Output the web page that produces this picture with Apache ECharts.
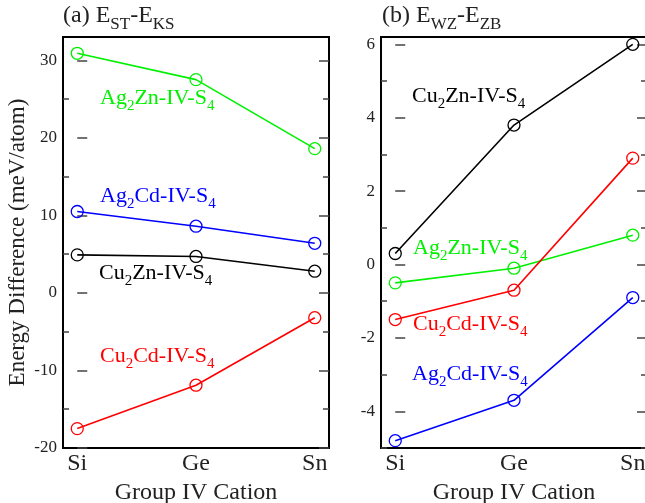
<!DOCTYPE html>
<html><head><meta charset="utf-8">
<script src="https://cdn.jsdelivr.net/npm/echarts@6/dist/echarts.min.js"></script>
<style>html,body{margin:0;padding:0;background:#fff}#c{width:645px;height:503px}</style>
</head><body><div id="c"></div>
<script>
const categories = ['Si', 'Ge', 'Sn'];
// Panel (a): E_ST - E_KS (meV/atom)
const a_Ag2Zn = [30.9, 27.5, 18.6];
const a_Ag2Cd = [10.5, 8.6, 6.4];
const a_Cu2Zn = [4.9, 4.7, 2.8];
const a_Cu2Cd = [-17.5, -11.9, -3.2];
// Panel (b): E_WZ - E_ZB (meV/atom)
const b_Cu2Zn = [0.3, 3.8, 6.0];
const b_Ag2Zn = [-0.5, -0.1, 0.8];
const b_Cu2Cd = [-1.5, -0.7, 2.9];
const b_Ag2Cd = [-4.8, -3.7, -0.9];
const a_ticks = [-20, -10, 0, 10, 20, 30];
const a_minor = [-15, -5, 5, 15, 25];
const b_ticks = [-4, -2, 0, 2, 4, 6];
const b_minor = [-5, -3, -1, 1, 3, 5];

const FONT = "'Liberation Serif','Times New Roman',serif";
const TXT = '#222';
const GREEN = '#00f000';
const chart = echarts.init(document.getElementById('c'));

function pairs(vals){ return vals.map((v,i)=>[i,v]); }
function xAxis(gi){
  return {type:'value', gridIndex:gi, min:-0.12, max:2.12,
    axisLine:{show:false}, splitLine:{show:false},
    axisTick:{show:false},
    axisLabel:{customValues:[0,1,2], formatter:v=>categories[Math.round(v)], fontFamily:FONT, fontSize:24, color:TXT, margin:4},
    name:'Group IV Cation', nameLocation:'middle', nameGap:25,
    nameTextStyle:{fontFamily:FONT, fontSize:24, color:TXT}};
}
function yAxes(gi, min, max, major, minor, withName){
  const base = {type:'value', gridIndex:gi, min:min, max:max, axisLine:{show:false}, splitLine:{show:false}};
  const tk = (vals, len)=>({show:true, inside:true, length:len, customValues:vals, lineStyle:{color:'#444', width:1.5}});
  const res = [];
  res.push(Object.assign({}, base, {position:'left', axisTick:tk(major,10),
    axisLabel:{customValues:major, fontFamily:FONT, fontSize:17, color:TXT, margin:6},
    name: withName ? 'Energy Difference (meV/atom)' : '', nameLocation:'middle', nameGap:34,
    nameTextStyle:{fontFamily:FONT, fontSize:23, color:TXT}}));
  res.push(Object.assign({}, base, {position:'left', axisTick:tk(minor,6), axisLabel:{show:false}}));
  res.push(Object.assign({}, base, {position:'right', axisTick:tk(major,10), axisLabel:{show:false}}));
  res.push(Object.assign({}, base, {position:'right', axisTick:tk(minor,6), axisLabel:{show:false}}));
  return res;
}
function line(name, vals, color, gi){
  return {type:'line', name:name, xAxisIndex:gi, yAxisIndex:gi*4, data:pairs(vals),
    symbol:'circle', symbolSize:12, showSymbol:true,
    lineStyle:{color:color, width:1.6},
    itemStyle:{color:'rgba(0,0,0,0)', borderColor:color, borderWidth:1.3},
    emphasis:{disabled:true}, animation:false, z:3};
}
function lbl(x, y, pre, s1, mid, s2, color){
  return {type:'text', left:x, top:y, z:10, style:{
    text:'{n|'+pre+'}{s|'+s1+'}{n|'+mid+'}{s|'+s2+'}',
    rich:{
      n:{fontFamily:FONT, fontSize:22, lineHeight:22, verticalAlign:'top', fill:color, color:color},
      s:{fontFamily:FONT, fontSize:15, lineHeight:15, padding:[12,0,0,0], verticalAlign:'top', fill:color, color:color}
    }}};
}
function title(x, y, pre, s1, mid, s2){
  return {type:'text', left:x, top:y, z:10, style:{
    text:'{n|'+pre+'}{s|'+s1+'}{n|'+mid+'}{s|'+s2+'}',
    rich:{
      n:{fontFamily:FONT, fontSize:24, lineHeight:24, verticalAlign:'top', fill:TXT, color:TXT},
      s:{fontFamily:FONT, fontSize:17, lineHeight:17, padding:[12,0,0,0], verticalAlign:'top', fill:TXT, color:TXT}
    }}};
}

const option = {
  backgroundColor:'#fff',
  animation:false,
  grid:[
    {left:63, top:37, width:266, height:411, show:true, borderColor:'#000', borderWidth:2, backgroundColor:'transparent', outerBoundsMode:'none', containLabel:false},
    {left:381, top:37, width:266, height:411, show:true, borderColor:'#000', borderWidth:2, backgroundColor:'transparent', outerBoundsMode:'none', containLabel:false}
  ],
  xAxis:[xAxis(0), xAxis(1)],
  yAxis:[].concat(yAxes(0,-20,33,a_ticks,a_minor,true), yAxes(1,-5,6.2,b_ticks,b_minor,false)),
  series:[
    line('Ag2Zn-IV-S4', a_Ag2Zn, GREEN, 0),
    line('Ag2Cd-IV-S4', a_Ag2Cd, '#0000ff', 0),
    line('Cu2Zn-IV-S4', a_Cu2Zn, '#000000', 0),
    line('Cu2Cd-IV-S4', a_Cu2Cd, '#ff0000', 0),
    line('Cu2Zn-IV-S4', b_Cu2Zn, '#000000', 1),
    line('Ag2Zn-IV-S4', b_Ag2Zn, GREEN, 1),
    line('Cu2Cd-IV-S4', b_Cu2Cd, '#ff0000', 1),
    line('Ag2Cd-IV-S4', b_Ag2Cd, '#0000ff', 1)
  ],
  graphic:[
    title(63, 4, '(a) E', 'ST', '-E', 'KS'),
    title(382, 4, '(b) E', 'WZ', '-E', 'ZB'),
    lbl(100, 87, 'Ag', '2', 'Zn-IV-S', '4', GREEN),
    lbl(100, 185, 'Ag', '2', 'Cd-IV-S', '4', '#0000ff'),
    lbl(99, 262, 'Cu', '2', 'Zn-IV-S', '4', '#000000'),
    lbl(100, 345, 'Cu', '2', 'Cd-IV-S', '4', '#ff0000'),
    lbl(412, 85, 'Cu', '2', 'Zn-IV-S', '4', '#000000'),
    lbl(413, 237, 'Ag', '2', 'Zn-IV-S', '4', GREEN),
    lbl(413, 313, 'Cu', '2', 'Cd-IV-S', '4', '#ff0000'),
    lbl(412, 363, 'Ag', '2', 'Cd-IV-S', '4', '#0000ff')
  ]
};
chart.setOption(option);
</script></body></html>
